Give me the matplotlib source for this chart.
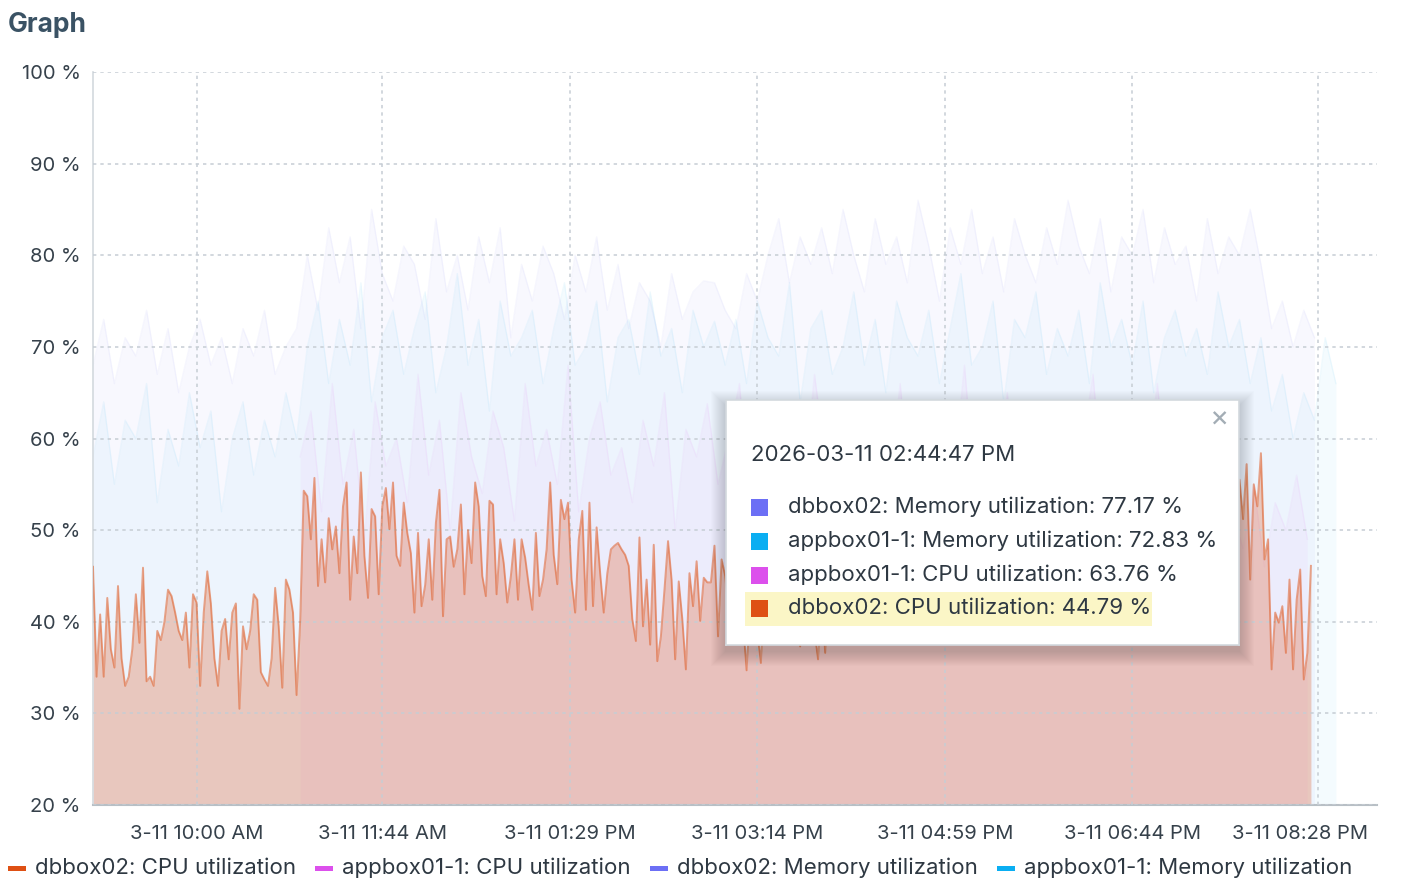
import numpy as np
import matplotlib
matplotlib.use("Agg")
import matplotlib.pyplot as plt
import matplotlib.transforms as mtransforms
from matplotlib.patches import Rectangle

plt.rcParams['font.family'] = ['Inter', 'DejaVu Sans']

# =========================
# 1. DATA
# =========================
# dbbox02 CPU, one sample every 2 min from 09:02
CPU_DB_START = "2026-03-11T09:02"
CPU_DB_STEP = 2
cpu_db = [
    # 09:02 - 10:58
    46, 34, 40.8, 34, 42.6, 37, 35, 43.9, 36, 33, 34, 37, 43, 37.7, 45.9, 33.5, 34, 33, 39, 38,
    40, 43.5, 42.8, 41, 39, 38, 41, 35, 43, 42.1, 33, 41, 45.5, 42, 36, 33, 39, 40.3, 35.9, 41,
    42, 30.5, 39.5, 37, 39, 43, 42.4, 34.5, 33.7, 33, 36, 43.7, 39.5, 32.8, 44.6, 43.5, 41, 32, 40,
    # 10:58 - 11:52
    54.3, 53.7, 49, 55.7, 43.9, 49, 44.3, 51.3, 47.9, 50.4, 45.3, 52.6, 55.2, 42.4, 49.3, 45.3,
    56.3, 47.2, 42.6, 52.3, 51.5, 43, 52.6, 54.6, 50.1, 55.2, 47.2,
    # 11:54 - 14:54
    46.1, 53, 49.7, 47.5, 41, 49.7, 41.7, 44, 49, 42.4, 50.8, 54.4, 40.6, 49, 49.3, 46, 47.9, 52.8, 43, 50,
    46.4, 55.2, 52.6, 45, 42.8, 53.2, 52.8, 43, 49, 46.4, 42.1, 45, 49, 42.4, 49, 47, 44, 41.3, 49.7, 42.8,
    44.6, 47.9, 55.2, 47.3, 44.1, 53.3, 51.2, 53, 44.6, 41, 49, 52.1, 41.3, 53, 41.7, 50.3, 45.3, 41, 45.3, 47.9,
    48.3, 48.6, 47.9, 47.3, 46.1, 40.3, 37.9, 49.2, 39.5, 44.6, 37.5, 48.4, 35.7, 38.4, 43.5, 48.8, 44.6, 35.9, 44.4, 40.3,
    34.8, 45.3, 41.7, 46.6, 40.1, 44.8, 44.3, 44.3, 48.3, 38.4, 46.8,
    # 14:56 - 19:42 (mostly behind the tooltip)
    45, 41, 47, 39, 43, 40, 34.7, 42, 46, 39, 35.5, 44, 40, 47, 42, 38, 45, 41, 48, 43,
    40, 37.3, 44, 46, 41, 39, 35.9, 43, 36.6, 45, 42, 48, 40, 44, 39, 46, 43, 41, 47, 40,
    44, 49, 42, 38, 45, 43, 47, 41, 44, 39, 46, 42, 48, 40, 45, 43, 39, 47, 44, 41,
    49, 43, 46, 40, 44, 48, 42, 45, 39, 47, 43, 41, 46, 50, 44, 42, 47, 40, 45, 43,
    48, 41, 46, 44, 39, 47, 43, 50, 42, 45, 41, 48, 44, 46, 40, 49, 43, 47, 42, 45,
    50, 44, 47, 41, 46, 49, 43, 51, 45, 48, 42, 47, 50, 44, 49, 46, 52, 43, 48, 51,
    46, 53, 47, 50, 45, 52, 49, 54, 47, 51, 55, 48, 53, 50, 56, 49, 52, 57, 50, 54,
    51, 56, 50, 55,
    # 19:44 - 20:24
    55.5, 51.2, 57.2, 44.6, 55, 52.6, 58.4, 46.8, 49, 34.8, 41, 39.9, 41.7, 36.6, 44.6, 34.8,
    42.4, 45.7, 33.7, 36.6, 46.1,
]

# the other three series, one sample every 6 min
OTHER_STEP = 6
MEM_DB_START = "2026-03-11T09:02"
mem_db = [
    68, 73, 66, 71, 69, 74, 67, 72, 65, 70, 73, 68, 71, 66, 72, 69, 74, 67, 70, 72,
    80, 74, 83, 77, 82, 72, 85, 78, 75, 81, 79, 73, 84, 76, 80, 74, 82, 77, 83, 71,
    79, 75, 81, 78, 73, 80, 76, 82, 74, 79, 72, 77, 75, 70, 78, 73, 76, 77.2, 77, 74,
    72, 78, 75, 80, 84, 77, 82, 79,
    83, 78, 85, 80, 76, 84, 79, 82, 77, 86, 81, 75, 83, 79, 85, 78, 82, 76, 84, 80,
    77, 83, 79, 86, 81, 78, 84, 76, 82, 80, 85, 77, 83, 79, 81, 75, 84, 78, 82, 80,
    85, 79,
    72, 75, 70, 74, 71,
]

MEM_APP_START = "2026-03-11T09:02"
mem_app = [
    58, 64, 55, 62, 60, 66, 53, 61, 57, 65, 59, 63, 52, 60, 64, 56, 62, 58, 65, 60,
    70, 75, 66, 73, 68, 77, 64, 71, 74, 67, 72, 76, 65, 70, 78, 68, 73, 63, 75, 69,
    71, 74, 66, 72, 77, 68, 70, 75, 64, 71, 73, 67, 76, 69, 72, 65, 74, 70, 72.8, 68,
    73, 66, 75, 71, 69, 77, 64, 72, 74, 67, 70, 76, 68, 73, 65, 75, 71, 69, 74, 66,
    72, 78, 68, 70, 75, 64, 73, 71, 76, 67, 72, 69, 74, 66, 77, 70, 73, 68, 75, 65,
    71, 74, 69, 72, 67, 76, 70, 73, 66, 71,
    63, 67, 60, 65, 62, 71, 66,
]

CPU_APP_START = "2026-03-11T10:58"
cpu_app = [
    58, 63, 52, 66, 55, 61, 49, 64, 57, 60, 53, 67, 56, 62, 50, 65, 58, 54, 63, 59,
    51, 66, 57, 61, 55, 68, 52, 60, 64, 56, 59, 53, 62, 57, 65, 50, 61, 58, 63.8, 55,
    60, 66, 52, 59, 63, 56, 61, 54, 67, 58, 62, 51, 64, 57, 60, 55, 66, 53, 61, 59,
    63, 56, 68, 54, 60, 58, 65, 52, 62, 57, 64, 55, 61, 59, 67, 53, 63, 58, 60, 56,
    66, 54, 62, 59, 64, 57, 61,
    52, 48, 55, 46, 53, 50, 56, 49,
]

X_START = "2026-03-11T09:02"
X_END = "2026-03-11T21:01"
TICK_TIMES = ["2026-03-11T10:00", "2026-03-11T11:44", "2026-03-11T13:29", "2026-03-11T15:14",
              "2026-03-11T16:59", "2026-03-11T18:44", "2026-03-11T20:28"]
TICK_LABELS = ["3-11 10:00 AM", "3-11 11:44 AM", "3-11 01:29 PM", "3-11 03:14 PM",
               "3-11 04:59 PM", "3-11 06:44 PM", "3-11 08:28 PM"]
Y_TICKS = [20, 30, 40, 50, 60, 70, 80, 90, 100]

LEGEND_NAMES = ["dbbox02: CPU utilization", "appbox01-1: CPU utilization",
                "dbbox02: Memory utilization", "appbox01-1: Memory utilization"]
COLORS = {"cpu_db": "#de5014", "cpu_app": "#dc50ec", "mem_db": "#6c6ff5", "mem_app": "#0aaef2"}
LEGEND_KEYS = ["cpu_db", "cpu_app", "mem_db", "mem_app"]

TOOLTIP_TIME = "2026-03-11 02:44:47 PM"
TOOLTIP_KEYS = ["mem_db", "mem_app", "cpu_app", "cpu_db"]
TOOLTIP_NAMES = ["dbbox02: Memory utilization", "appbox01-1: Memory utilization",
                 "appbox01-1: CPU utilization", "dbbox02: CPU utilization"]
TOOLTIP_VALUES = [77.17, 72.83, 63.76, 44.79]


def make_times(start, step, n):
    return np.datetime64(start) + np.arange(n) * np.timedelta64(step, "m")


# =========================
# 2. FIGURE
# =========================
W, H = 1402, 886
fig = plt.figure(figsize=(W / 100, H / 100), dpi=100)


def px_box(x0, y0, x1, y1):
    return [x0 / W, 1 - y1 / H, (x1 - x0) / W, (y1 - y0) / H]


ax = fig.add_axes(px_box(93, 72, 1377, 805))

# faint (dimmed) series
faint = [
    (make_times(MEM_DB_START, OTHER_STEP, len(mem_db)), mem_db, COLORS["mem_db"]),
    (make_times(MEM_APP_START, OTHER_STEP, len(mem_app)), mem_app, COLORS["mem_app"]),
    (make_times(CPU_APP_START, OTHER_STEP, len(cpu_app)), cpu_app, COLORS["cpu_app"]),
]
for t, v, c in faint:
    ax.fill_between(t, v, 0, color=c, alpha=0.045, linewidth=0, zorder=1)
for t, v, c in faint:
    ax.plot(t, v, color=c, alpha=0.06, linewidth=1.0, zorder=1.5)

# highlighted series
t_cpu = make_times(CPU_DB_START, CPU_DB_STEP, len(cpu_db))
ax.fill_between(t_cpu, cpu_db, 0, color=COLORS["cpu_db"], alpha=0.27, linewidth=0, zorder=1.8)
ax.plot(t_cpu, cpu_db, color=COLORS["cpu_db"], alpha=0.5, linewidth=1.4, zorder=3)

ax.set_xlim(np.datetime64(X_START), np.datetime64(X_END))
ax.set_ylim(20, 100)
ax.set_yticks(Y_TICKS)
ax.set_yticklabels([f"{v} %" for v in Y_TICKS])
ax.set_xticks(np.array(TICK_TIMES, dtype="datetime64[m]"))
ax.set_xticklabels(TICK_LABELS)
ax.tick_params(length=0, labelsize=14.5, labelcolor="#36414b")
ax.tick_params(axis="y", pad=9)
ax.tick_params(axis="x", pad=14.5)

# last label is pushed left so it stays inside the panel
last = ax.get_xticklabels()[-1]
last.set_transform(last.get_transform() +
                   mtransforms.ScaledTranslation(-18 / 100, 0, fig.dpi_scale_trans))

ax.set_axisbelow(False)
ax.grid(True, color="#c6cdd4", linestyle=(0, (2.2, 2.6)), linewidth=1.1)
ax.spines["top"].set_visible(False)
ax.spines["right"].set_visible(False)
ax.spines["left"].set_color("#d3d9de")
ax.spines["left"].set_linewidth(1.2)
ax.spines["bottom"].set_color("#b8bfc5")
ax.spines["bottom"].set_linewidth(1.5)
ax.set_facecolor("white")

fig.text(8 / W, 1 - 25 / H, "Graph", fontsize=19, fontweight="bold",
         color="#3a5264", va="center", ha="left")

# =========================
# 3. TOOLTIP
# =========================
tx0, ty0, tx1, ty1 = 726, 400, 1239, 645
for k in range(1, 16):
    fig.patches.append(Rectangle(((tx0 - k) / W, 1 - (ty1 + k + 6) / H),
                                 (tx1 - tx0 + 2 * k) / W, (ty1 - ty0 + 2 * k) / H,
                                 transform=fig.transFigure, facecolor="black",
                                 edgecolor="none", alpha=0.011, zorder=9))

tip = fig.add_axes(px_box(tx0, ty0, tx1, ty1), zorder=10)
tip.set_xlim(0, tx1 - tx0)
tip.set_ylim(ty1 - ty0, 0)
tip.set_xticks([])
tip.set_yticks([])
for s in tip.spines.values():
    s.set_color("#d3d9de")
    s.set_linewidth(1.2)

tip.text(493, 19, "\u00d7", fontsize=21, color="#a3adb5", ha="center", va="center")
tip.text(25, 55, TOOLTIP_TIME, fontsize=16, color="#2e3842", va="center")
tip.add_patch(Rectangle((19, 192), 407, 34, facecolor="#fbf6c6", edgecolor="none"))
row_y = [107, 141, 175, 208]
for y, key, name, val in zip(row_y, TOOLTIP_KEYS, TOOLTIP_NAMES, TOOLTIP_VALUES):
    tip.add_patch(Rectangle((25, y - 8.5), 17, 17, facecolor=COLORS[key], edgecolor="none"))
    tip.text(62, y, f"{name}: {val:.2f} %", fontsize=16, color="#2e3842", va="center")

# =========================
# 4. LEGEND
# =========================
renderer = fig.canvas.get_renderer()
lx = 8
ly = 868
for key, name in zip(LEGEND_KEYS, LEGEND_NAMES):
    fig.patches.append(Rectangle((lx / W, 1 - (ly + 2.5) / H), 18 / W, 5 / H,
                                 transform=fig.transFigure, facecolor=COLORS[key],
                                 edgecolor="none"))
    txt = fig.text((lx + 27) / W, 1 - ly / H, name, fontsize=16, color="#2e3842",
                   va="center", ha="left")
    lx = lx + 27 + txt.get_window_extent(renderer).width + 19

fig.savefig("out.png", dpi=100)
